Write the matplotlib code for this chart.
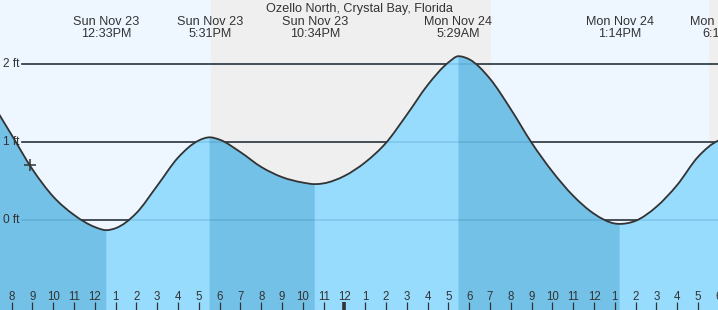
import matplotlib
matplotlib.use("Agg")
import matplotlib.pyplot as plt
import matplotlib.transforms as mtransforms
from matplotlib.path import Path
from matplotlib.patches import PathPatch
import numpy as np

plt.rcParams['font.family'] = ['Liberation Sans', 'DejaVu Sans']

# ---------------- data (hours since Sun Nov 23 00:00, heights in ft) ----------------
title = "Ozello North, Crystal Bay, Florida"

hours = list(range(7, 43))
hourly_heights = [1.53, 1.09, 0.65, 0.30, 0.065, -0.09, -0.105, 0.09, 0.44, 0.80,
                  1.02, 1.03, 0.87, 0.68, 0.55, 0.48, 0.47, 0.565, 0.74, 0.99,
                  1.35, 1.73, 2.02, 2.06, 1.81, 1.42, 0.99, 0.62, 0.31, 0.08,
                  -0.045, -0.01, 0.17, 0.45, 0.81, 1.02]

ext_times = [12.55, 17.52, 22.57, 29.48, 37.23, 42.27]
ext_heights = [-0.13, 1.06, 0.46, 2.10, -0.05, 1.04]
ext_kind = ['L', 'H', 'L', 'H', 'L', 'H']
ext_day = ['Sun Nov 23', 'Sun Nov 23', 'Sun Nov 23', 'Mon Nov 24', 'Mon Nov 24', 'Mon Nov 24']
ext_clock = ['12:33PM', '5:31PM', '10:34PM', '5:29AM', '1:14PM', '6:16PM']

sunsets = [17.58, 41.55]
sunrises = [31.03, 55.0]

now_time = 8.88
now_height = 0.70

grid_levels = [0, 1, 2]
grid_labels = ['0 ft', '1 ft', '2 ft']

tick_hours = list(range(8, 43))
tick_labels = [str((h - 1) % 12 + 1) for h in tick_hours]
midnight_hours = [24]

# ---------------- style ----------------
W, H = 718, 310
PX_PER_H = 20.8
X0 = 7.44
X1 = X0 + W / PX_PER_H
Y_TOP = 220 / 78.0
Y_BOT = -90 / 78.0

SKY_DAY = '#EEF7FF'
SKY_NIGHT = '#EFEFEF'
WATER_RISE = '#97DBFD'
WATER_FALL = '#73C1E6'
INK = '#333333'

fig = plt.figure(figsize=(W / 100, H / 100), dpi=100)
ax = fig.add_axes([0, 0, 1, 1])
ax.set_facecolor(SKY_DAY)
for s in ax.spines.values():
    s.set_visible(False)
ax.set_xticks([])
ax.set_yticks([])
ax.set_xlim(X0, X1)
ax.set_ylim(Y_BOT, Y_TOP)

# night shading
for ss, sr in zip(sunsets, sunrises):
    ax.axvspan(ss, sr, color=SKY_NIGHT, lw=0, zorder=0.5)

# combined tide series (hourly readings + extremes)
pairs = sorted(zip(hours + ext_times, hourly_heights + ext_heights))
t_all = np.array([p[0] for p in pairs])
h_all = np.array([p[1] for p in pairs])
is_ext = np.isin(t_all, ext_times)

# tangents for a smooth (Hermite / Bezier) rendering through the readings
n = len(t_all)
slopes = np.zeros(n)
for i in range(n):
    if is_ext[i]:
        slopes[i] = 0.0
    elif i == 0:
        slopes[i] = (h_all[1] - h_all[0]) / (t_all[1] - t_all[0])
    elif i == n - 1:
        slopes[i] = (h_all[-1] - h_all[-2]) / (t_all[-1] - t_all[-2])
    else:
        d0 = t_all[i] - t_all[i - 1]
        d1 = t_all[i + 1] - t_all[i]
        s0 = (h_all[i] - h_all[i - 1]) / d0
        s1 = (h_all[i + 1] - h_all[i]) / d1
        slopes[i] = (s0 * d1 + s1 * d0) / (d0 + d1)


def curve_vertices(i0, i1):
    verts = [(t_all[i0], h_all[i0])]
    codes = [Path.MOVETO]
    for i in range(i0, i1):
        dt = t_all[i + 1] - t_all[i]
        verts += [(t_all[i] + dt / 3, h_all[i] + slopes[i] * dt / 3),
                  (t_all[i + 1] - dt / 3, h_all[i + 1] - slopes[i + 1] * dt / 3),
                  (t_all[i + 1], h_all[i + 1])]
        codes += [Path.CURVE4] * 3
    return verts, codes


def water_patch(i0, i1, color, z):
    verts, codes = curve_vertices(i0, i1)
    verts += [(t_all[i1], Y_BOT - 1), (t_all[i0], Y_BOT - 1), (t_all[i0], h_all[i0])]
    codes += [Path.LINETO, Path.LINETO, Path.CLOSEPOLY]
    ax.add_patch(PathPatch(Path(verts, codes), facecolor=color, edgecolor='none', lw=0, zorder=z))


# grid lines (dark above water)
xmin_frac = 22 / W
for lv in grid_levels:
    ax.axhline(lv, xmin=xmin_frac, xmax=1, color=INK, lw=1.2, zorder=1)

# water: rising (light) everywhere, falling (dark) from each high to next low
water_patch(0, n - 1, WATER_RISE, 2)
idx = {t: int(np.where(t_all == t)[0][0]) for t in ext_times}
prev_high_idx = 0
for tt, kk in zip(ext_times, ext_kind):
    if kk == 'L':
        water_patch(prev_high_idx, idx[tt], WATER_FALL, 2.1)
    else:
        prev_high_idx = idx[tt]

# faint grid lines under water
for lv in grid_levels:
    ax.axhline(lv, xmin=xmin_frac, xmax=1, color=(0.0, 0.3, 0.55), alpha=0.15, lw=1.2, zorder=2.5)

# tide curve
v, c = curve_vertices(0, n - 1)
ax.add_patch(PathPatch(Path(v, c), facecolor='none', edgecolor=INK, lw=1.3, zorder=3))

# now marker
ax.plot([now_time], [now_height], marker='+', ms=8, mew=1.1, color=INK, zorder=4)

# y labels
ytrans = mtransforms.blended_transform_factory(ax.transAxes, ax.transData)
for lv, lab in zip(grid_levels, grid_labels):
    ax.text(3 / W, lv, lab, transform=ytrans, ha='left', va='center',
            fontsize=8.6, color=INK, zorder=5)

# extreme labels
xtrans = mtransforms.blended_transform_factory(ax.transData, ax.transAxes)
for tt, dd, cc in zip(ext_times, ext_day, ext_clock):
    ax.text(tt, 1 - 25.3 / H, dd, transform=xtrans, ha='center', va='baseline',
            fontsize=9.1, color=INK, zorder=5, clip_on=False)
    ax.text(tt, 1 - 36.8 / H, cc, transform=xtrans, ha='center', va='baseline',
            fontsize=9.1, color=INK, zorder=5, clip_on=False)

# title
ax.text(0.5, 1 - 11.7 / H, title, transform=ax.transAxes, ha='center', va='baseline',
        fontsize=9.1, color=INK, zorder=5)

# hour ticks and labels
ax.vlines(tick_hours, 0, 8 / H, transform=xtrans, color=INK, lw=0.9, zorder=5)
ax.vlines(midnight_hours, 0, 8 / H, transform=xtrans, color=INK, lw=2.6, zorder=5)
for hh, lab in zip(tick_hours, tick_labels):
    ax.text(hh, 10 / H, lab, transform=xtrans, ha='center', va='baseline',
            fontsize=8.3, color=INK, zorder=5)

fig.savefig('out.png', dpi=100, facecolor=SKY_DAY)
